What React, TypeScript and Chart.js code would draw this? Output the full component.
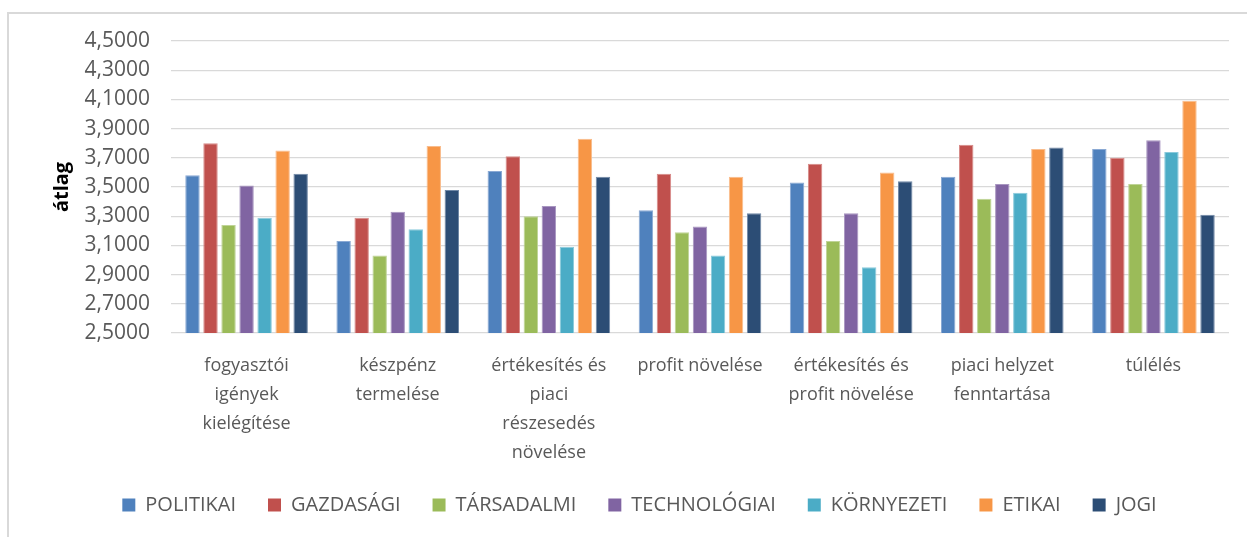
import React, { useEffect, useRef } from "react";
import { Chart, registerables } from "chart.js";

Chart.register(...registerables);

const categories: (string | string[])[] = [
  ["fogyasztói", "igények", "kielégítése"],
  ["készpénz", "termelése"],
  ["értékesítés és", "piaci", "részesedés", "növelése"],
  "profit növelése",
  ["értékesítés és", "profit növelése"],
  ["piaci helyzet", "fenntartása"],
  "túlélés",
];

const politikai = [3.58, 3.13, 3.61, 3.34, 3.53, 3.57, 3.76];
const gazdasagi = [3.80, 3.29, 3.71, 3.59, 3.66, 3.79, 3.70];
const tarsadalmi = [3.24, 3.03, 3.30, 3.19, 3.13, 3.42, 3.52];
const technologiai = [3.51, 3.33, 3.37, 3.23, 3.32, 3.52, 3.82];
const kornyezeti = [3.29, 3.21, 3.09, 3.03, 2.95, 3.46, 3.74];
const etikai = [3.75, 3.78, 3.83, 3.57, 3.60, 3.76, 4.09];
const jogi = [3.59, 3.48, 3.57, 3.32, 3.54, 3.77, 3.31];

const seriesNames = ["POLITIKAI", "GAZDASÁGI", "TÁRSADALMI", "TECHNOLÓGIAI", "KÖRNYEZETI", "ETIKAI", "JOGI"];
const seriesColors = ["#4F81BD", "#C0504D", "#9BBB59", "#8064A2", "#4BACC6", "#F79646", "#2C4D75"];
const seriesEdges = ["#8AA9D4", "#D78A88", "#BFD497", "#A896C0", "#8ACADC", "#F9BC8C", "#7088A6"];

const yMin = 2.5;
const yMax = 4.5;
const yStep = 0.2;

const FONT = "'Open Sans', 'Noto Sans', sans-serif";
const TEXT = "#595959";

export default function App() {
  const ref = useRef<HTMLCanvasElement | null>(null);

  useEffect(() => {
    if (!ref.current) return;
    const values = [politikai, gazdasagi, tarsadalmi, technologiai, kornyezeti, etikai, jogi];
    const chart = new Chart(ref.current, {
      type: "bar",
      data: {
        labels: categories,
        datasets: values.map((v, i) => ({
          label: seriesNames[i],
          data: v,
          backgroundColor: seriesColors[i],
          borderColor: seriesEdges[i],
          borderWidth: 1,
          barPercentage: 0.8,
          categoryPercentage: 0.835,
        })),
      },
      options: {
        responsive: false,
        animation: false,
        layout: { padding: { left: 50, right: 18, top: 41, bottom: 12 } },
        plugins: {
          tooltip: { enabled: false },
          legend: {
            position: "bottom",
            labels: {
              boxWidth: 13,
              boxHeight: 13,
              padding: 32,
              color: TEXT,
              font: { family: FONT, size: 20 },
              generateLabels: (c: any) =>
                Chart.defaults.plugins.legend.labels.generateLabels(c).map((l: any) => ({
                  ...l,
                  fillStyle: seriesColors[l.datasetIndex],
                  strokeStyle: seriesColors[l.datasetIndex],
                  lineWidth: 0,
                })),
            },
          },
        },
        scales: {
          x: {
            grid: { display: false },
            border: { display: false },
            ticks: {
              color: TEXT,
              font: { family: FONT, size: 18, lineHeight: 1.61 },
              padding: 10,
              maxRotation: 0,
              autoSkip: false,
            },
            afterFit: (scale: any) => {
              scale.height = 130;
            },
          },
          y: {
            min: yMin,
            max: yMax,
            border: { display: false },
            grid: { color: "#d9d9d9", lineWidth: 1.3, drawTicks: false },
            ticks: {
              stepSize: yStep,
              color: TEXT,
              padding: 21,
              font: { family: FONT, size: 21 },
              callback: (v: any) => Number(v).toFixed(4).replace(".", ","),
            },
            title: {
              display: true,
              text: "átlag",
              color: "#000000",
              font: { family: FONT, size: 20, weight: "bold" },
              padding: { top: 0, bottom: 0 },
            },
            afterFit: (scale: any) => {
              scale.width = 121;
            },
          },
        },
      },
    });
    return () => chart.destroy();
  }, []);

  return (
    <div style={{ position: "fixed", left: 0, top: 0, width: 1247, height: 537, background: "#ffffff", overflow: "hidden" }}>
      <div
        style={{
          position: "absolute",
          left: 7,
          top: 12,
          width: 1300,
          height: 600,
          borderLeft: "2px solid #d9d9d9",
          borderTop: "2px solid #d9d9d9",
        }}
      />
      <canvas ref={ref} width={1247} height={537} style={{ position: "absolute", left: 0, top: 0 }} />
    </div>
  );
}
